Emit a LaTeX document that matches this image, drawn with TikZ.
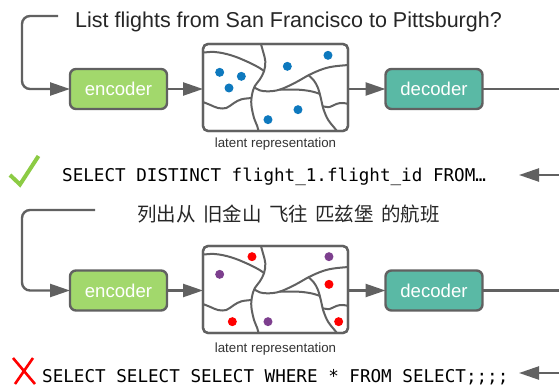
\documentclass[tikz,border=0pt]{standalone}
\usepackage{fontspec}
\setmainfont{Liberation Sans}
\setmonofont{DejaVu Sans Mono}
\newfontfamily\cjkfont{Noto Sans CJK SC}
\usetikzlibrary{arrows.meta}
\definecolor{lgray}{HTML}{616161}
\definecolor{encgreen}{HTML}{A2D86C}
\definecolor{decteal}{HTML}{5AB9A5}
\definecolor{dotblue}{HTML}{0E79BE}
\definecolor{dotred}{HTML}{FF0000}
\definecolor{dotpurple}{HTML}{7D3F8E}
\definecolor{checkgreen}{HTML}{8CCB44}
\newcommand\latcurves{%
  \draw[curve] plot[smooth,tension=0.6] coordinates {(15,45) (60,42) (110,52) (160,72) (195,90) (209,100)};
  \draw[curve] plot[smooth,tension=0.6] coordinates {(195,5) (205,40) (212,70) (208,100) (195,125) (180,145) (172,170) (170,200) (178,240) (188,265) (195,295)};
  \draw[curve] plot[smooth,tension=0.6] coordinates {(178,147) (195,157) (220,160) (255,155) (300,135) (345,110) (385,93) (420,85) (475,80)};
  \draw[curve] plot[smooth,tension=0.6] coordinates {(255,155) (310,155) (350,160) (376,168)};
  \draw[curve] plot[smooth,tension=0.6] coordinates {(340,110) (358,128) (370,150) (378,178) (386,212) (400,245) (418,268) (440,295)};
  \draw[curve] plot[smooth,tension=0.6] coordinates {(10,186) (45,200) (70,210) (95,210) (118,195) (140,184) (172,180)};
  \draw[curve] plot[smooth,tension=0.6] coordinates {(385,205) (405,207) (425,198) (445,195) (475,201)};
}
\begin{document}
\begin{tikzpicture}[x=1pt,y=-1pt,
  conn/.style={draw=lgray,line width=2.4pt},
  arr/.style={conn,-{Triangle[length=20pt,width=13pt]}},
  codbox/.style={draw=lgray,line width=2.4pt,rounded corners=6pt,minimum width=97pt,minimum height=40pt,inner sep=0pt,outer sep=0pt,text=white,font=\fontsize{18.6}{20}\selectfont},
  latbox/.style={draw=lgray,line width=2.3pt,rounded corners=5pt,fill=white,minimum width=145pt,minimum height=87pt,inner sep=0pt,outer sep=0pt},
  curve/.style={draw=lgray,line width=2pt},
  latlabel/.style={text=black!80,font=\fontsize{13.3}{15}\selectfont,inner sep=0pt},
  sql/.style={font=\ttfamily\fontsize{17.6}{20}\selectfont,inner sep=0pt,anchor=base west}
]
\useasboundingbox (0,0) rectangle (559,385);

% ---------- top row ----------
\node[inner sep=0pt,anchor=base,font=\fontsize{21.5}{24}\selectfont,text=black!85] (q1) at (288.5,27.3) {List flights from San Francisco to Pittsburgh?};
\node[codbox,fill=encgreen] (enc1) at (118.5,89) {encoder};
\node[latbox] (lat1) at (275.5,87.5) {};
\node[codbox,fill=decteal] (dec1) at (434,89) {decoder};
\node[latlabel] (ll1) at (275.5,144) {latent representation};
\begin{scope}
  \clip[rounded corners=5pt] (lat1.north west) rectangle (lat1.south east);
  \begin{scope}[shift={(lat1.north west)},xshift=-8.333pt,yshift=6pt,x=0.3333pt,y=-0.3333pt]
    \latcurves
    \foreach \p in {(75,103),(140,115),(103,150),(278,85),(400,52),(310,215),(220,245)}
      \fill[dotblue] \p circle[radius=4.5pt];
  \end{scope}
\end{scope}
\draw[latbox,fill=none] (lat1.north west) rectangle (lat1.south east);

\coordinate (s1) at (58,16);
\coordinate (c1) at (22,16);
\draw[arr,rounded corners=8pt] (s1) -- (c1) |- (enc1.west);
\draw[arr] (enc1.east) -- (enc1.east -| lat1.west);
\draw[arr] (dec1.west -| lat1.east) -- (dec1.west);
\coordinate (e1) at (559,89);
\draw[conn] (dec1.east) -- (e1);
\coordinate (r1) at (559,175);
\coordinate (t1) at (519,175);
\draw[arr] (r1) -- (t1);

\node[sql] (sql1) at (62,181.5) {SELECT DISTINCT flight\_1.flight\_id FROM…};
\coordinate (k1) at (10,175);
\coordinate (k2) at (20,184.5);
\coordinate (k3) at (38.5,156);
\draw[checkgreen,line width=4pt,line join=miter] (k1) -- (k2) -- (k3);

% ---------- bottom row ----------
\node[inner sep=0pt,font=\cjkfont\fontsize{19.5}{22}\selectfont,text=black!85] (q2) at (288.5,214.5) {列出从\hspace{0.38em}旧金山\hspace{0.38em}飞往\hspace{0.38em}匹兹堡\hspace{0.38em}的航班};
\node[codbox,fill=encgreen] (enc2) at (118.5,290.5) {encoder};
\node[latbox] (lat2) at (275.5,289.5) {};
\node[codbox,fill=decteal] (dec2) at (434,290.5) {decoder};
\node[latlabel] (ll2) at (275.5,349) {latent representation};
\begin{scope}
  \clip[rounded corners=5pt] (lat2.north west) rectangle (lat2.south east);
  \begin{scope}[shift={(lat2.north west)},xshift=-8.333pt,yshift=6pt,x=0.3333pt,y=-0.3333pt]
    \latcurves
    \foreach \p in {(172,50),(403,133),(113,245),(432,245)}
      \fill[dotred] \p circle[radius=4.5pt];
    \foreach \p in {(75,103),(403,50),(220,245)}
      \fill[dotpurple] \p circle[radius=4.5pt];
  \end{scope}
\end{scope}
\draw[latbox,fill=none] (lat2.north west) rectangle (lat2.south east);

\coordinate (s2) at (95,210);
\coordinate (c2) at (22,210);
\draw[arr,rounded corners=8pt] (s2) -- (c2) |- (enc2.west);
\draw[arr] (enc2.east) -- (enc2.east -| lat2.west);
\draw[arr] (dec2.west -| lat2.east) -- (dec2.west);
\coordinate (e2) at (559,290.5);
\draw[conn] (dec2.east) -- (e2);
\coordinate (r2) at (559,373);
\coordinate (t2) at (519,373);
\draw[arr] (r2) -- (t2);

\node[sql] (sql2) at (42,382.5) {SELECT SELECT SELECT WHERE * FROM SELECT;;;;};
\coordinate (x1) at (13,358);
\coordinate (x2) at (35,384);
\coordinate (x3) at (33,358);
\coordinate (x4) at (15,384);
\draw[dotred,line width=2.6pt] (x1) -- (x2) (x3) -- (x4);
\end{tikzpicture}
\end{document}
